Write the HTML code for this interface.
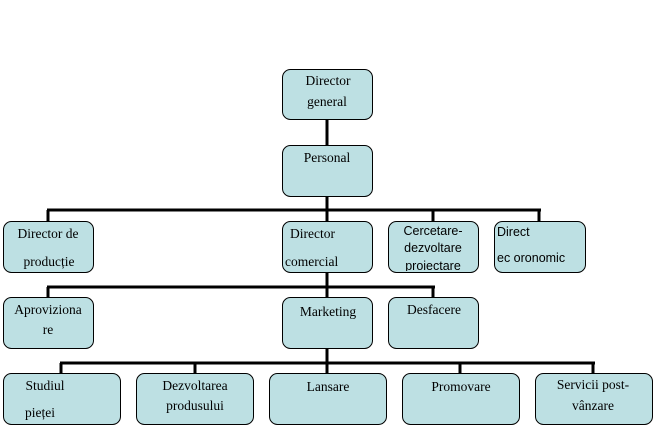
<!DOCTYPE html>
<html><head><meta charset="utf-8"><style>
html,body{margin:0;padding:0;background:#fff}
svg{display:block}
text{font-family:"Liberation Serif",serif;font-size:13.5px;fill:#000}
.s{font-family:"Liberation Sans",sans-serif;font-size:12.5px}
rect{fill:#bde0e3;stroke:#000;stroke-width:1}
line{stroke:#000;stroke-width:3}
</style></head><body>
<svg width="655" height="428" viewBox="0 0 655 428">
<defs><clipPath id="c"><rect x="388" y="221" width="91" height="50"/></clipPath></defs>
<line x1="327" y1="119" x2="327" y2="145"/>
<line x1="327" y1="196" x2="327" y2="221"/>
<line x1="47" y1="210" x2="541" y2="210"/>
<line x1="48" y1="210" x2="48" y2="222"/>
<line x1="433" y1="210" x2="433" y2="222"/>
<line x1="539" y1="210" x2="539" y2="222"/>
<line x1="327" y1="272" x2="327" y2="298"/>
<line x1="47" y1="287" x2="435" y2="287"/>
<line x1="48" y1="287" x2="48" y2="298"/>
<line x1="433" y1="287" x2="433" y2="298"/>
<line x1="327" y1="348" x2="327" y2="374"/>
<line x1="60" y1="363" x2="595" y2="363"/>
<line x1="61" y1="363" x2="61" y2="374"/>
<line x1="195" y1="363" x2="195" y2="374"/>
<line x1="460" y1="363" x2="460" y2="374"/>
<line x1="593" y1="363" x2="593" y2="374"/>

<rect x="282.5" y="69.5" width="90" height="50" rx="8"/>
<rect x="282.5" y="145.5" width="90" height="51" rx="8"/>
<rect x="3.5" y="221.5" width="90" height="51" rx="8"/>
<rect x="282.5" y="221.5" width="90" height="51" rx="8"/>
<rect x="388.5" y="221.5" width="90" height="51" rx="8"/>
<rect x="494.5" y="221.5" width="91" height="51" rx="8"/>
<rect x="3.5" y="297.5" width="90" height="51" rx="8"/>
<rect x="282.5" y="297.5" width="90" height="51" rx="8"/>
<rect x="388.5" y="297.5" width="90" height="51" rx="8"/>
<rect x="3.5" y="373.5" width="117" height="51" rx="8"/>
<rect x="136.5" y="373.5" width="117" height="51" rx="8"/>
<rect x="269.5" y="373.5" width="117" height="51" rx="8"/>
<rect x="402.5" y="373.5" width="117" height="51" rx="8"/>
<rect x="535.5" y="373.5" width="117" height="51" rx="8"/>

<text x="328" y="85" text-anchor="middle">Director</text>
<text x="327" y="106" text-anchor="middle">general</text>
<text x="327" y="162" text-anchor="middle">Personal</text>
<text x="48" y="238" text-anchor="middle">Director de</text>
<text x="49" y="266" text-anchor="middle">producție</text>
<text x="290" y="238">Director</text>
<text x="285" y="266">comercial</text>
<g clip-path="url(#c)">
<text class="s" x="433" y="235" text-anchor="middle">Cercetare-</text>
<text class="s" x="433" y="252" text-anchor="middle">dezvoltare</text>
<text class="s" x="433" y="270" text-anchor="middle">proiectare</text>
</g>
<text class="s" x="497" y="236">Direct</text>
<text class="s" x="497" y="262">ec oronomic</text>
<text x="48" y="314" text-anchor="middle">Aproviziona</text>
<text x="48" y="334" text-anchor="middle">re</text>
<text x="328" y="316" text-anchor="middle">Marketing</text>
<text x="434" y="314" text-anchor="middle">Desfacere</text>
<text x="45" y="390" text-anchor="middle">Studiul</text>
<text x="40" y="417" text-anchor="middle">pieței</text>
<text x="195" y="390" text-anchor="middle">Dezvoltarea</text>
<text x="195" y="410" text-anchor="middle">produsului</text>
<text x="328" y="391" text-anchor="middle">Lansare</text>
<text x="461" y="391" text-anchor="middle">Promovare</text>
<text x="593" y="389" text-anchor="middle">Servicii post-</text>
<text x="593" y="410" text-anchor="middle">vânzare</text>
</svg>
</body></html>
